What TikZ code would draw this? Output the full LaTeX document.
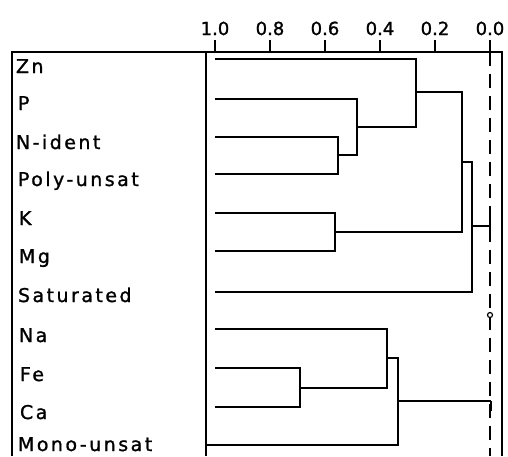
\documentclass[tikz,border=0pt]{standalone}
\usepackage{fontspec}
\newfontfamily\lettering[LetterSpace=13, FakeBold=1.2]{DejaVu Sans}
\newfontfamily\digits[FakeBold=1.2]{DejaVu Sans}
\usetikzlibrary{calc}

\begin{document}
\begin{tikzpicture}[x=1pt, y=-1pt, line width=2pt,
	lbl/.style={anchor=base west, inner sep=0pt, font=\fontsize{19}{20}\lettering},
	val/.style={anchor=base, inner sep=0pt, font=\fontsize{18}{20}\digits}]

	\useasboundingbox (0,0) rectangle (508,456);

	% frame
	\draw (12,456) -- (12,52) -- (502,52) -- (502,456);
	\draw (206,52) -- (206,456);

	% scale
	\foreach \v/\x in {1.0/215, 0.8/270, 0.6/325, 0.4/380, 0.2/435, 0.0/490} {
		\draw (\x,40) -- (\x,52);
		\node[val] (v\x) at (\x,35) {\v};
	}
	\draw[dash pattern=on 14pt off 8pt] (490,52) -- (490,456);

	% leaves
	\coordinate (zn) at (215,59);
	\coordinate (p) at (215,99);
	\coordinate (nid) at (215,137);
	\coordinate (poly) at (215,174);
	\coordinate (k) at (215,213);
	\coordinate (mg) at (215,251);
	\coordinate (sat) at (215,292);
	\coordinate (na) at (215,329);
	\coordinate (fe) at (215,368);
	\coordinate (ca) at (215,407);
	\coordinate (mono) at (206,445);

	\node[lbl] (lzn) at (15,73) {Zn};
	\node[lbl] (lp) at (17,110) {P};
	\node[lbl] (lnid) at (15,149) {N-ident};
	\node[lbl] (lpoly) at (17,186) {Poly-unsat};
	\node[lbl] (lk) at (18,225) {K};
	\node[lbl] (lmg) at (18,263) {Mg};
	\node[lbl] (lsat) at (17,302) {Saturated};
	\node[lbl] (lna) at (18,342) {Na};
	\node[lbl] (lfe) at (19,381) {Fe};
	\node[lbl] (lca) at (19,419) {Ca};
	\node[lbl] (lmono) at (17,451) {Mono-unsat};

	% merges
	\coordinate (m1) at (338,155);
	\coordinate (m2) at (357,127);
	\coordinate (m3) at (416,92);
	\coordinate (m4) at (335,232);
	\coordinate (m5) at (462,162);
	\coordinate (m6) at (472,226);
	\coordinate (m7) at (300,388);
	\coordinate (m8) at (387,358);
	\coordinate (m9) at (398,401);
	\coordinate (r1) at (490,226);
	\coordinate (r2) at (491,401);

	\draw (nid) -| (m1) |- (poly);
	\draw (p) -| (m2) |- (m1);
	\draw (zn) -| (m3) |- (m2);
	\draw (k) -| (m4) |- (mg);
	\draw (m3) -| (m5) |- (m4);
	\draw (m5) -| (m6) |- (sat);
	\draw (m6) -- (r1);
	\draw ($(r1)+(0,-6)$) -- ($(r1)+(0,6)$);

	\draw (fe) -| (m7) |- (ca);
	\draw (na) -| (m8) |- (m7);
	\draw (m8) -| (m9) |- (mono);
	\draw (m9) -- (r2);
	\draw (r2) -- ($(r2)+(0,10)$);

	\draw[fill=white, line width=1.2pt] (490,315) circle (2.5pt);
\end{tikzpicture}
\end{document}
